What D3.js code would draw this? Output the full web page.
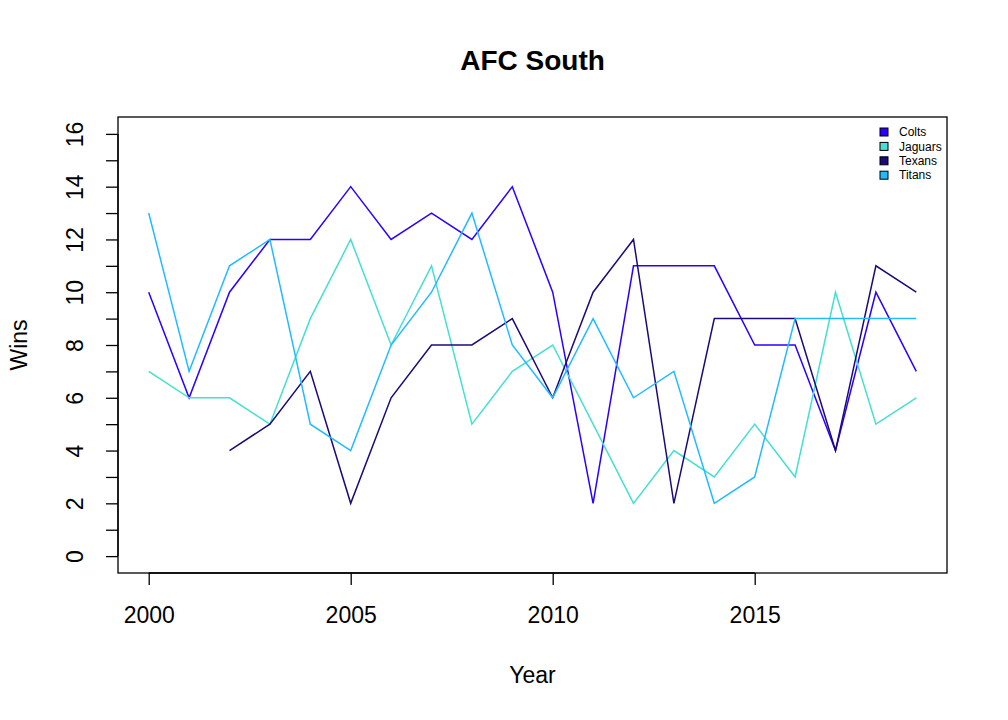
<!DOCTYPE html>
<html lang="en">
<head>
<meta charset="UTF-8">
<title>AFC South</title>
<script src="https://cdn.jsdelivr.net/npm/d3@7"></script>
<style>
  body { margin: 0; background: #fff; }
  svg { font-family: "Liberation Sans", Arial, Helvetica, sans-serif; }
</style>
</head>
<body>
<svg id="chart" width="1008" height="720"></svg>
<script>
// wins per season
var years = d3.range(2000, 2020);
var teams = ["Colts", "Jaguars", "Texans", "Titans"];
var colts   = [10, 6, 10, 12, 12, 14, 12, 13, 12, 14, 10, 2, 11, 11, 11, 8, 8, 4, 10, 7];
var jaguars = [7, 6, 6, 5, 9, 12, 8, 11, 5, 7, 8, 5, 2, 4, 3, 5, 3, 10, 5, 6];
var texans  = [null, null, 4, 5, 7, 2, 6, 8, 8, 9, 6, 10, 12, 2, 9, 9, 9, 4, 11, 10];
var titans  = [13, 7, 11, 12, 5, 4, 8, 10, 13, 8, 6, 9, 6, 7, 2, 3, 9, 9, 9, 9];
var xTicks = [2000, 2005, 2010, 2015];
var yTicks = d3.range(0, 17);
var colors = ["#2c00ff", "#44e0d0", "#1c0a7a", "#22bbff"];

var series = [colts, jaguars, texans, titans];

var svg = d3.select("#chart");
var pL = 118, pR = 947, pT = 117, pB = 573;

// R style 4% padding
var x = d3.scaleLinear().domain([2000 - 19 * 0.04, 2019 + 19 * 0.04]).range([pL, pR]);
var y = d3.scaleLinear().domain([-16 * 0.04, 16 + 16 * 0.04]).range([pB, pT]);

// title
svg.append("text")
  .attr("x", (pL + pR) / 2).attr("y", 70)
  .attr("text-anchor", "middle")
  .attr("font-size", 28).attr("font-weight", "bold")
  .text("AFC South");

// lines
var line = d3.line()
  .defined(function(d) { return d.v != null; })
  .x(function(d) { return x(d.year); })
  .y(function(d) { return y(d.v); });

series.forEach(function(vals, i) {
  var pts = years.map(function(yr, j) { return { year: yr, v: vals[j] }; });
  svg.append("path")
    .datum(pts)
    .attr("fill", "none")
    .attr("stroke", colors[i])
    .attr("stroke-width", 1.5)
    .attr("d", line);
});

// box
svg.append("rect")
  .attr("x", pL).attr("y", pT)
  .attr("width", pR - pL).attr("height", pB - pT)
  .attr("fill", "none").attr("stroke", "#000").attr("stroke-width", 1.3);

// x axis
var xAxis = d3.axisBottom(x).tickValues(xTicks).tickFormat(d3.format("d"))
  .tickSize(12).tickPadding(22);
var gx = svg.append("g").attr("transform", "translate(0," + pB + ")").call(xAxis);
gx.select(".domain").remove();
gx.append("line")
  .attr("x1", x(xTicks[0])).attr("x2", x(xTicks[xTicks.length - 1]))
  .attr("stroke", "#000").attr("stroke-width", 1.3);
gx.selectAll(".tick line").attr("stroke-width", 1.3);
gx.selectAll(".tick text").attr("font-size", 23).attr("fill", "#000")
  .attr("font-family", "Liberation Sans, Arial, sans-serif");

// y axis: tick every win, label every other one
var yAxis = d3.axisLeft(y).tickValues(yTicks)
  .tickFormat(function(d) { return d % 2 === 0 ? d : ""; })
  .tickSize(12).tickPadding(0);
var gy = svg.append("g").attr("transform", "translate(" + pL + ",0)").call(yAxis);
gy.select(".domain").remove();
gy.append("line")
  .attr("y1", y(0)).attr("y2", y(16))
  .attr("stroke", "#000").attr("stroke-width", 1.3);
gy.selectAll(".tick line").attr("stroke-width", 1.3);
gy.selectAll(".tick text")
  .attr("font-size", 23).attr("fill", "#000")
  .attr("font-family", "Liberation Sans, Arial, sans-serif")
  .attr("text-anchor", "middle")
  .attr("x", 0).attr("dy", 0)
  .attr("transform", "translate(-43,0) rotate(-90)")
  .attr("dominant-baseline", "central");

// axis titles
svg.append("text")
  .attr("x", (pL + pR) / 2).attr("y", 683)
  .attr("text-anchor", "middle").attr("font-size", 23)
  .text("Year");
svg.append("text")
  .attr("transform", "translate(27," + (pT + pB) / 2 + ") rotate(-90)")
  .attr("text-anchor", "middle").attr("font-size", 23)
  .text("Wins");

// legend
var lg = svg.append("g").attr("transform", "translate(880,132)");
teams.forEach(function(t, i) {
  var row = lg.append("g").attr("transform", "translate(0," + i * 14.4 + ")");
  row.append("rect")
    .attr("x", 0).attr("y", -4).attr("width", 8).attr("height", 8)
    .attr("fill", colors[i]).attr("stroke", "#000").attr("stroke-width", 1);
  row.append("text")
    .attr("x", 19).attr("y", 0).attr("dy", "0.35em")
    .attr("font-size", 12).text(t);
});
</script>
</body>
</html>
